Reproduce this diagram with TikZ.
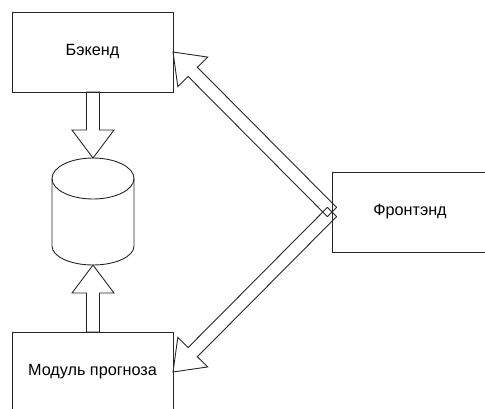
\documentclass[tikz,border=0pt]{standalone}
\usepackage{fontspec}
\setmainfont{Liberation Sans}
\usetikzlibrary{calc}
\tikzset{
  box/.style={draw=black!85, line width=0.9pt, minimum width=161pt, minimum height=80pt, inner sep=0pt, outer sep=0pt, font=\fontsize{16.2}{19}\selectfont},
  barrow/.style={draw=black!85, line width=0.9pt, line join=miter},
  cyl/.style={draw=black!85, line width=0.9pt}
}
\newcommand\blockarr[2]{%
  \coordinate (ba-h) at ($(#2)!28pt!(#1)$);
  \draw[barrow] ($(#1)!6.5pt!90:(#2)$) -- ($(ba-h)!6.5pt!90:(#2)$) -- ($(ba-h)!21pt!90:(#2)$) -- (#2) -- ($(ba-h)!21pt!-90:(#2)$) -- ($(ba-h)!6.5pt!-90:(#2)$) -- ($(#1)!6.5pt!-90:(#2)$) -- cycle;
}
\begin{document}
\begin{tikzpicture}[x=1pt,y=-1pt]
  \useasboundingbox (0,0) rectangle (485,408);
  \clip (0,0) rectangle (485,408);
  % boxes
  \node[box] (back) at (92.5,52) {Бэкенд};
  \node[box] (mod) at (92.5,372) {Модуль прогноза};
  \node[box, minimum width=156pt] (front) at (410,212) {Фронтэнд};
  % database cylinder
  \coordinate (dbtop) at (93,158);
  \coordinate (dbbot) at (93,265);
  \draw[cyl] (52,178.5) -- (52,246) arc[start angle=180, end angle=360, x radius=41pt, y radius=19pt] -- (134,178.5);
  \draw[cyl] (93,178.5) ellipse [x radius=41pt, y radius=20.5pt];
  % block arrows
  \blockarr{back.south -| dbtop}{dbtop}
  \blockarr{mod.north -| dbbot}{dbbot}
  \blockarr{front.west}{back.east}
  \blockarr{front.west}{mod.east}
\end{tikzpicture}
\end{document}
